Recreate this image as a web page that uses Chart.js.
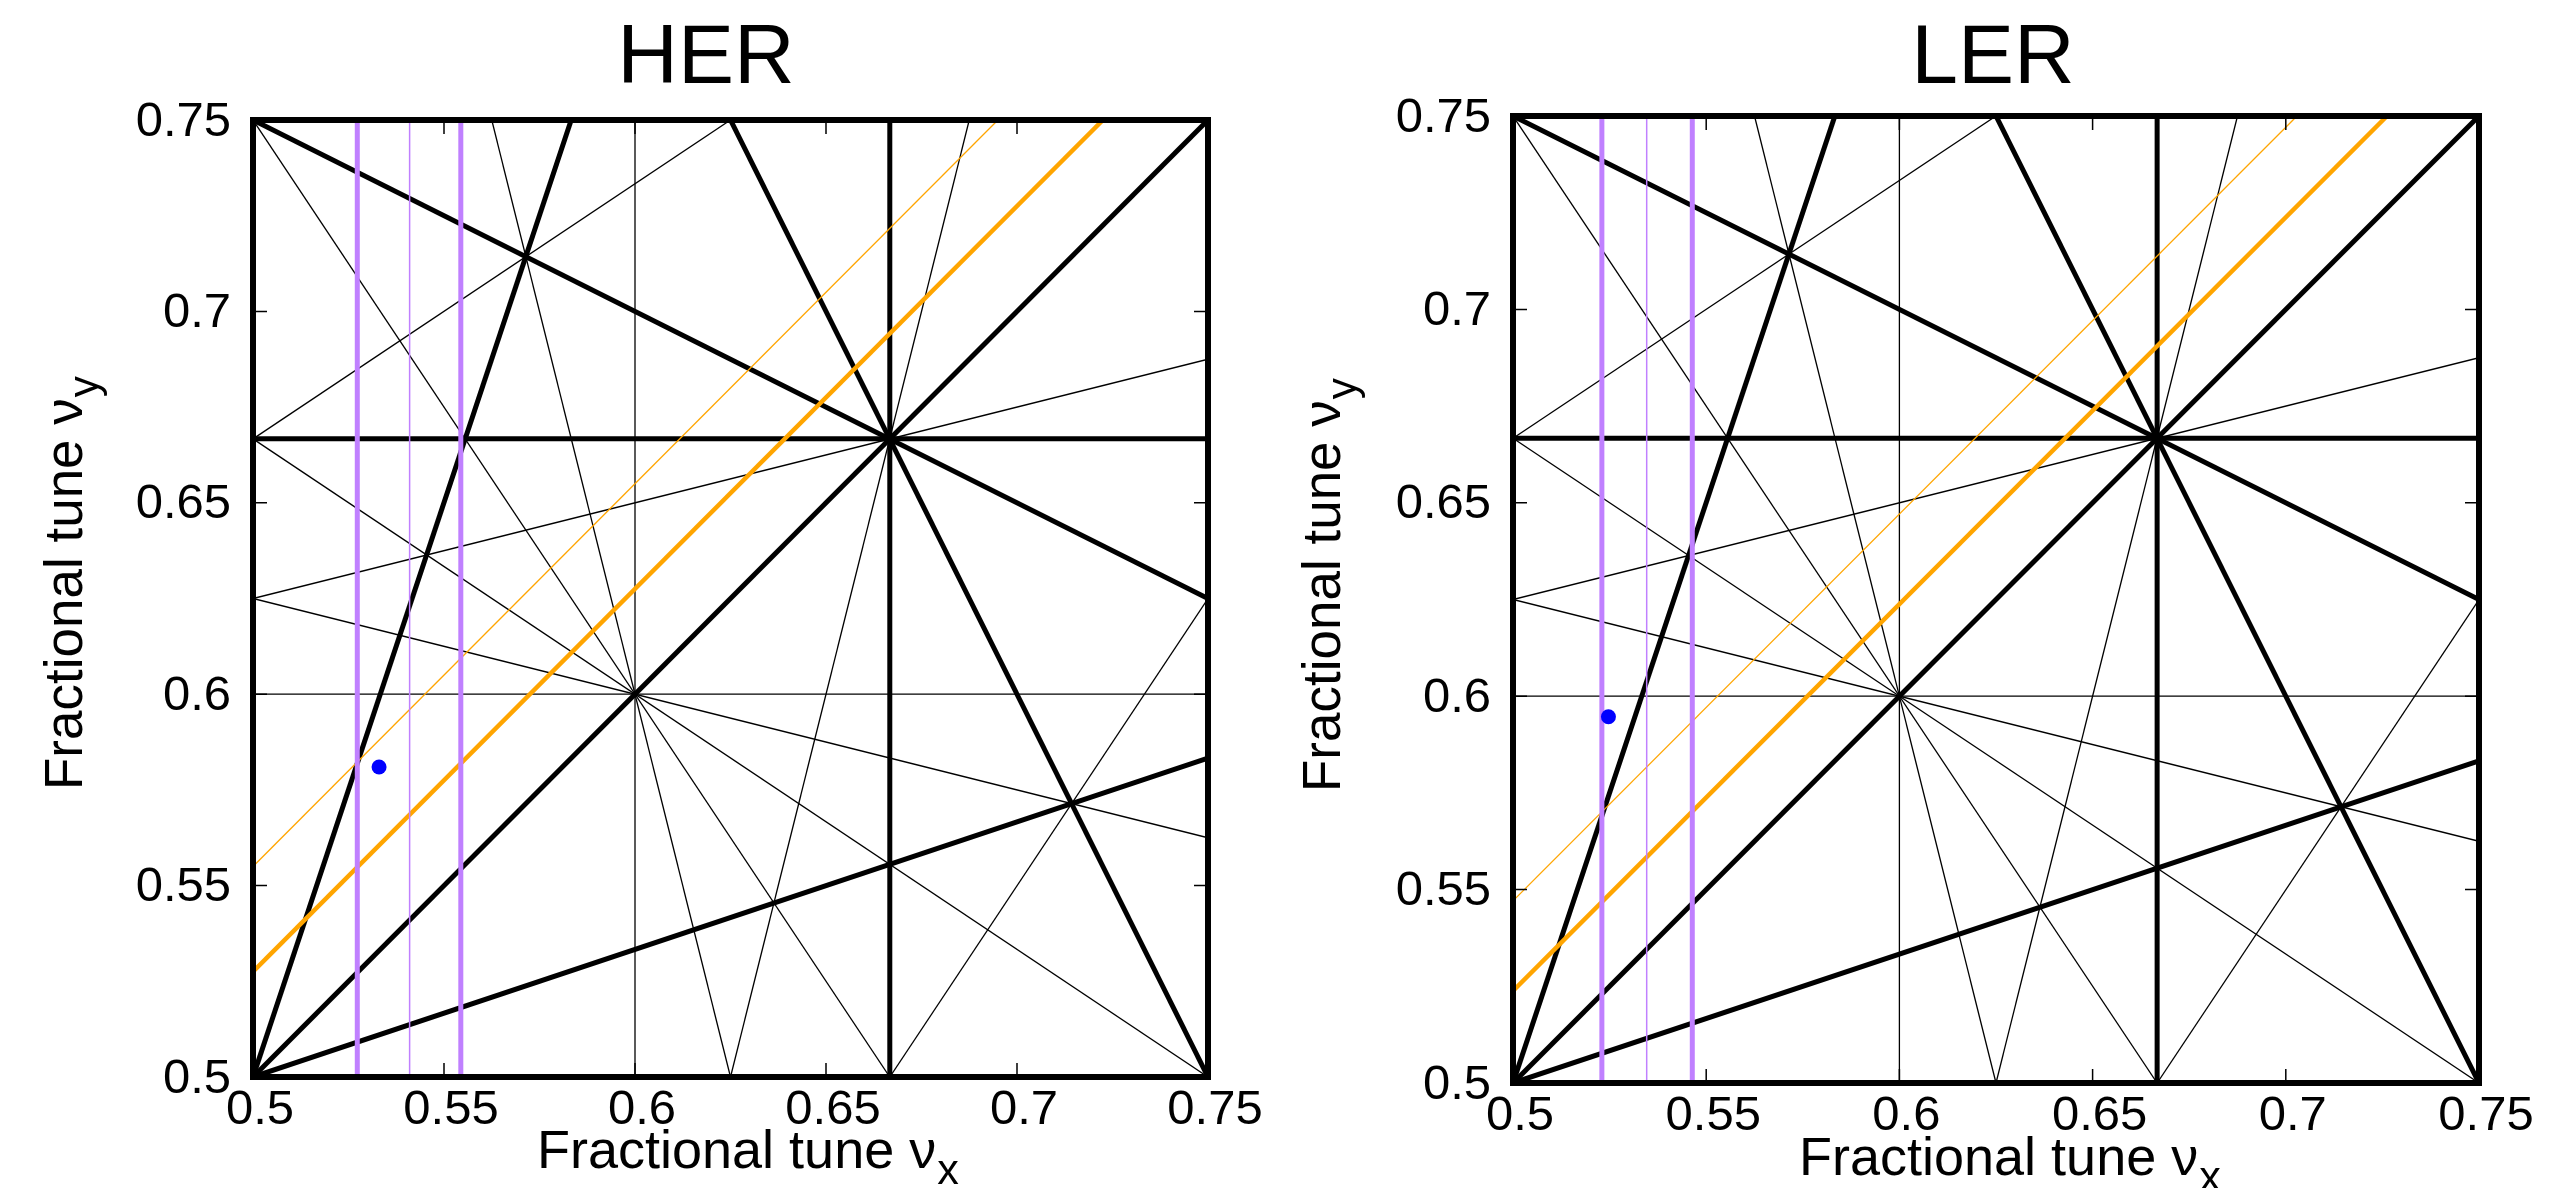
<!DOCTYPE html>
<html>
<head>
<meta charset="utf-8">
<script src="https://cdn.jsdelivr.net/npm/chart.js@4.4.1/dist/chart.umd.min.js"></script>
<style>
  html, body { margin: 0; padding: 0; background: #fff; overflow: hidden; }
  #wrap { position: relative; width: 2551px; height: 1188px; background: #fff; }
  .panel { position: absolute; top: 0; height: 1188px; }
</style>
</head>
<body>
<div id="wrap">
  <div class="panel" style="left:0; width:1275px;"><canvas id="her" width="1275" height="1188"></canvas></div>
  <div class="panel" style="left:1275px; width:1276px;"><canvas id="ler" width="1276" height="1188"></canvas></div>
</div>
<script>
// ---------------- data ----------------
const axisTickValues = [0.5, 0.55, 0.6, 0.65, 0.7, 0.75];
const axisTickLabels = ['0.5', '0.55', '0.6', '0.65', '0.7', '0.75'];

// resonance lines as [x1, y1, x2, y2]
const strongResonances = [
  [0.5, 0.5, 0.75, 0.75],
  [0.5, 0.6667, 0.75, 0.6667],
  [0.6667, 0.5, 0.6667, 0.75],
  [0.5, 0.75, 0.75, 0.625],
  [0.5, 0.5, 0.75, 0.5833],
  [0.5, 0.5, 0.5833, 0.75],
  [0.625, 0.75, 0.75, 0.5]
];
const weakResonances = [
  [0.6, 0.5, 0.6, 0.75],
  [0.5, 0.6, 0.75, 0.6],
  [0.5, 0.75, 0.6667, 0.5],
  [0.5625, 0.75, 0.625, 0.5],
  [0.5, 0.6667, 0.75, 0.5],
  [0.5, 0.625, 0.75, 0.5625],
  [0.5, 0.625, 0.75, 0.6875],
  [0.5, 0.6667, 0.625, 0.75],
  [0.625, 0.5, 0.6875, 0.75],
  [0.6667, 0.5, 0.75, 0.625]
];

// HER
const herSidebandMain = [0.5, 0.5275, 0.7225, 0.75];
const herSidebandSecond = [0.5, 0.555, 0.695, 0.75];
const herSyncThick = [0.5273, 0.5544];
const herSyncThin = [0.5410];
const herTune = [0.533, 0.581];

// LER
const lerSidebandMain = [0.5, 0.5238, 0.7262, 0.75];
const lerSidebandSecond = [0.5, 0.5471, 0.7029, 0.75];
const lerSyncThick = [0.5230, 0.5464];
const lerSyncThin = [0.5346];
const lerTune = [0.5247, 0.5947];

// ---------------- helpers ----------------
const FONT = '"Liberation Sans", Arial, Helvetica, sans-serif';
const BLACK = '#000000';
const PURPLE = '#c080ff';
const ORANGE = '#ffa500';

function seg(l, color, width, order) {
  return {
    type: 'scatter', showLine: true,
    data: [{x: l[0], y: l[1]}, {x: l[2], y: l[3]}],
    borderColor: color, backgroundColor: color, borderWidth: width,
    pointRadius: 0, pointHoverRadius: 0, order: order, borderCapStyle: 'butt'
  };
}
function vline(v, color, width, order) {
  return seg([v, 0.5, v, 0.75], color, width, order);
}

// draws "main" + subscript starting at local x = 0, baseline local y = 0
function drawSubText(ctx, main, sub, size) {
  ctx.textAlign = 'left';
  ctx.textBaseline = 'alphabetic';
  ctx.font = size + 'px ' + FONT;
  const w1 = ctx.measureText(main).width;
  ctx.fillText(main, 0, 0);
  ctx.font = (size * 0.8) + 'px ' + FONT;
  ctx.fillText(sub, w1 + 1, size * 0.3);
}

const framePlugin = {
  id: 'framePlugin',
  afterDatasetsDraw(chart) {
    const {ctx, chartArea: a} = chart;
    const x = chart.scales.x, y = chart.scales.y;
    ctx.save();
    ctx.strokeStyle = BLACK;
    ctx.lineWidth = 1.5;
    ctx.beginPath();
    for (const v of axisTickValues) {
      const px = x.getPixelForValue(v), py = y.getPixelForValue(v);
      ctx.moveTo(px, a.bottom); ctx.lineTo(px, a.bottom - 14);
      ctx.moveTo(px, a.top); ctx.lineTo(px, a.top + 14);
      ctx.moveTo(a.left, py); ctx.lineTo(a.left + 14, py);
      ctx.moveTo(a.right, py); ctx.lineTo(a.right - 14, py);
    }
    ctx.stroke();
    ctx.lineWidth = 6;
    ctx.lineJoin = 'miter';
    ctx.strokeRect(a.left, a.top, a.right - a.left, a.bottom - a.top);
    ctx.restore();
  },
  afterDraw(chart, args, o) {
    const ctx = chart.ctx;
    ctx.save();
    ctx.fillStyle = BLACK;
    ctx.font = o.titleSize + 'px ' + FONT;
    ctx.textAlign = 'center';
    ctx.textBaseline = 'alphabetic';
    ctx.fillText(o.title, o.titleX, o.titleY);
    ctx.save();
    ctx.translate(o.xLabelX, o.xLabelY);
    drawSubText(ctx, 'Fractional tune \u03bd', 'x', o.xLabelSize);
    ctx.restore();
    ctx.save();
    ctx.translate(o.yLabelX, o.yLabelY);
    ctx.rotate(-Math.PI / 2);
    drawSubText(ctx, 'Fractional tune \u03bd', 'y', o.yLabelSize);
    ctx.restore();
    ctx.restore();
  }
};

function makeChart(id, d, L) {
  const datasets = [];
  datasets.push({
    type: 'scatter', data: [{x: d.tune[0], y: d.tune[1]}],
    pointRadius: 7.5, pointBackgroundColor: '#0000ff', pointBorderWidth: 0,
    borderColor: '#0000ff', order: 0
  });
  d.syncThick.forEach(v => datasets.push(vline(v, PURPLE, 5, 1)));
  d.syncThin.forEach(v => datasets.push(vline(v, PURPLE, 1.5, 1)));
  datasets.push(seg(d.sbMain, ORANGE, 4.5, 2));
  datasets.push(seg(d.sbSecond, ORANGE, 1.3, 2));
  strongResonances.forEach(l => datasets.push(seg(l, BLACK, 5, 3)));
  weakResonances.forEach(l => datasets.push(seg(l, BLACK, 1.3, 4)));

  const tickCfg = (labelOffset, padding) => ({
    font: {family: FONT, size: 49}, color: BLACK, padding: padding,
    labelOffset: labelOffset, maxRotation: 0, minRotation: 0, autoSkip: false,
    callback: (v, i) => axisTickLabels[i]
  });
  const setTicks = s => { s.ticks = axisTickValues.map(v => ({value: v})); };

  return new Chart(document.getElementById(id), {
    type: 'scatter',
    data: {datasets},
    plugins: [framePlugin],
    options: {
      responsive: false, animation: false, events: [],
      layout: {padding: {left: 0, top: L.top, right: L.right, bottom: 0}},
      plugins: {legend: {display: false}, tooltip: {enabled: false}, title: {display: false},
        framePlugin: L.text},
      scales: {
        x: {type: 'linear', position: 'bottom', min: 0.5, max: 0.75,
          grid: {display: false, drawTicks: false}, border: {display: false},
          ticks: tickCfg(7, 4), afterBuildTicks: setTicks,
          afterFit: s => { s.height = L.xHeight; }},
        y: {type: 'linear', position: 'left', min: 0.5, max: 0.75,
          grid: {display: false, drawTicks: false}, border: {display: false},
          ticks: tickCfg(2, 22), afterBuildTicks: setTicks,
          afterFit: s => { s.width = L.yWidth; }}
      }
    }
  });
}

makeChart('her', {
  tune: herTune, syncThick: herSyncThick, syncThin: herSyncThin,
  sbMain: herSidebandMain, sbSecond: herSidebandSecond
}, {
  top: 120, right: 1275 - 1208, xHeight: 1188 - 1077, yWidth: 253,
  text: {title: 'HER', titleSize: 84, titleX: 706, titleY: 83,
    xLabelSize: 54, yLabelSize: 53,
    xLabelX: 537, xLabelY: 1168, yLabelX: 82, yLabelY: 790}
});

makeChart('ler', {
  tune: lerTune, syncThick: lerSyncThick, syncThin: lerSyncThin,
  sbMain: lerSidebandMain, sbSecond: lerSidebandSecond
}, {
  top: 116, right: 1276 - 1204, xHeight: 1188 - 1083, yWidth: 238,
  text: {title: 'LER', titleSize: 84, titleX: 718, titleY: 83,
    xLabelSize: 54, yLabelSize: 53,
    xLabelX: 1799 - 1275, xLabelY: 1175, yLabelX: 65, yLabelY: 792}
});
</script>
</body>
</html>
